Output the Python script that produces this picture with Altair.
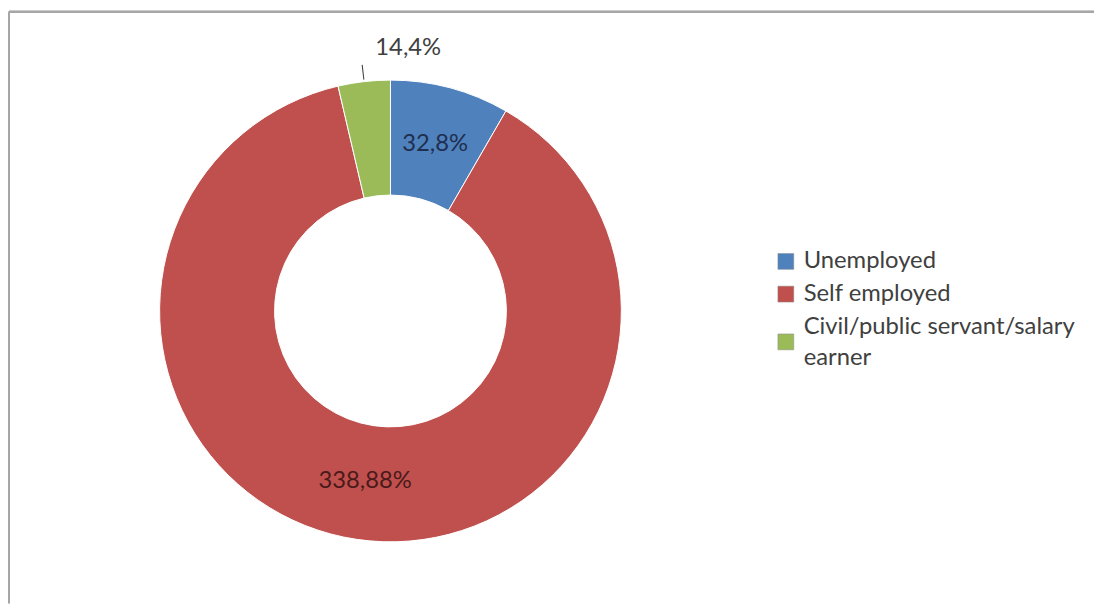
import altair as alt
import pandas as pd
import math

categories = ["Unemployed", "Self employed", "Civil/public servant/salary earner"]
values = [32, 338, 14]
label_text = ["32,8%", "338,88%", "14,4%"]
label_inside = [True, True, False]

palette = ["#4F81BD", "#C0504D", "#9BBB59"]
label_colors = ["#1F2F4F", "#4A1A1A", "#404040"]

total = sum(values)
rows = []
cum = 0
for i, (c, v, t, ins) in enumerate(zip(categories, values, label_text, label_inside)):
    mid = 2 * math.pi * (cum + v / 2) / total
    cum += v
    rows.append({"cat": c, "value": v, "order": i, "label": t, "inside": ins,
                 "mid": mid, "m1": mid - 0.0022, "m2": mid + 0.0022})
df = pd.DataFrame(rows)

W, H = 1095, 597
CX, CY = 385, 302
R_OUT, R_IN = 233, 117

base = alt.Chart(df)

color_enc = alt.Color(
    "cat:N",
    scale=alt.Scale(domain=categories, range=palette),
    sort=categories,
    legend=alt.Legend(
        title=None,
        orient="none",
        legendX=772,
        legendY=240,
        symbolType={"expr": "datum.value == 'Civil/public servant/salary earner' ? 'M-1,0.9H1V2.9H-1Z' : 'square'"},
        symbolSize=256,
        symbolStrokeWidth=0.5,
        symbolStrokeColor="#888888",
        labelFont="Lato",
        labelFontSize=24,
        labelColor="#404040",
        labelLimit=500,
        rowPadding=9,
        labelOffset=6,
        labelExpr="datum.label == 'Civil/public servant/salary earner' ? ['Civil/public servant/salary', 'earner'] : datum.label",
    ),
)

arcs = base.mark_arc(
    radius=R_OUT, radius2=R_IN, stroke="white", strokeWidth=1
).encode(
    theta=alt.Theta("value:Q", stack=True),
    order=alt.Order("order:Q"),
    color=color_enc,
    x=alt.value(CX),
    y=alt.value(CY),
)

inside_labels = base.transform_filter("datum.inside").mark_text(
    font="Lato", fontSize=24, align="center", baseline="middle"
).encode(
    theta=alt.Theta("mid:Q", scale=None),
    radius=alt.value(174),
    text="label:N",
    color=alt.Color("cat:N", scale=alt.Scale(domain=categories, range=label_colors), legend=None),
    x=alt.value(CX),
    y=alt.value(CY),
)

outside_labels = base.transform_filter("!datum.inside").mark_text(
    font="Lato", fontSize=24, align="left", baseline="middle", dx=15, dy=-2, color="#404040"
).encode(
    theta=alt.Theta("mid:Q", scale=None),
    radius=alt.value(265),
    text="label:N",
    x=alt.value(CX),
    y=alt.value(CY),
)

leader = base.transform_filter("!datum.inside").mark_arc(
    radius=250, radius2=235, color="#404040"
).encode(
    theta=alt.Theta("m1:Q", scale=None),
    theta2=alt.Theta2("m2:Q"),
    x=alt.value(CX),
    y=alt.value(CY),
)

frame_top = base.mark_rule(color="#A6A6A6", strokeWidth=2).encode(
    x=alt.value(0), x2=alt.value(W), y=alt.value(0)
)
frame_left = base.mark_rule(color="#A6A6A6", strokeWidth=2).encode(
    x=alt.value(0), y=alt.value(0), y2=alt.value(H)
)

chart = alt.layer(frame_top, frame_left, arcs, leader, inside_labels, outside_labels).resolve_scale(
    color="independent"
).properties(
    width=W, height=H, padding=0, background="white"
).configure(
    style={"guide-label": {"lineHeight": 32}}
).configure_view(
    stroke=None
)

chart.save("out.html", embed_options={"renderer": "svg", "actions": False})
